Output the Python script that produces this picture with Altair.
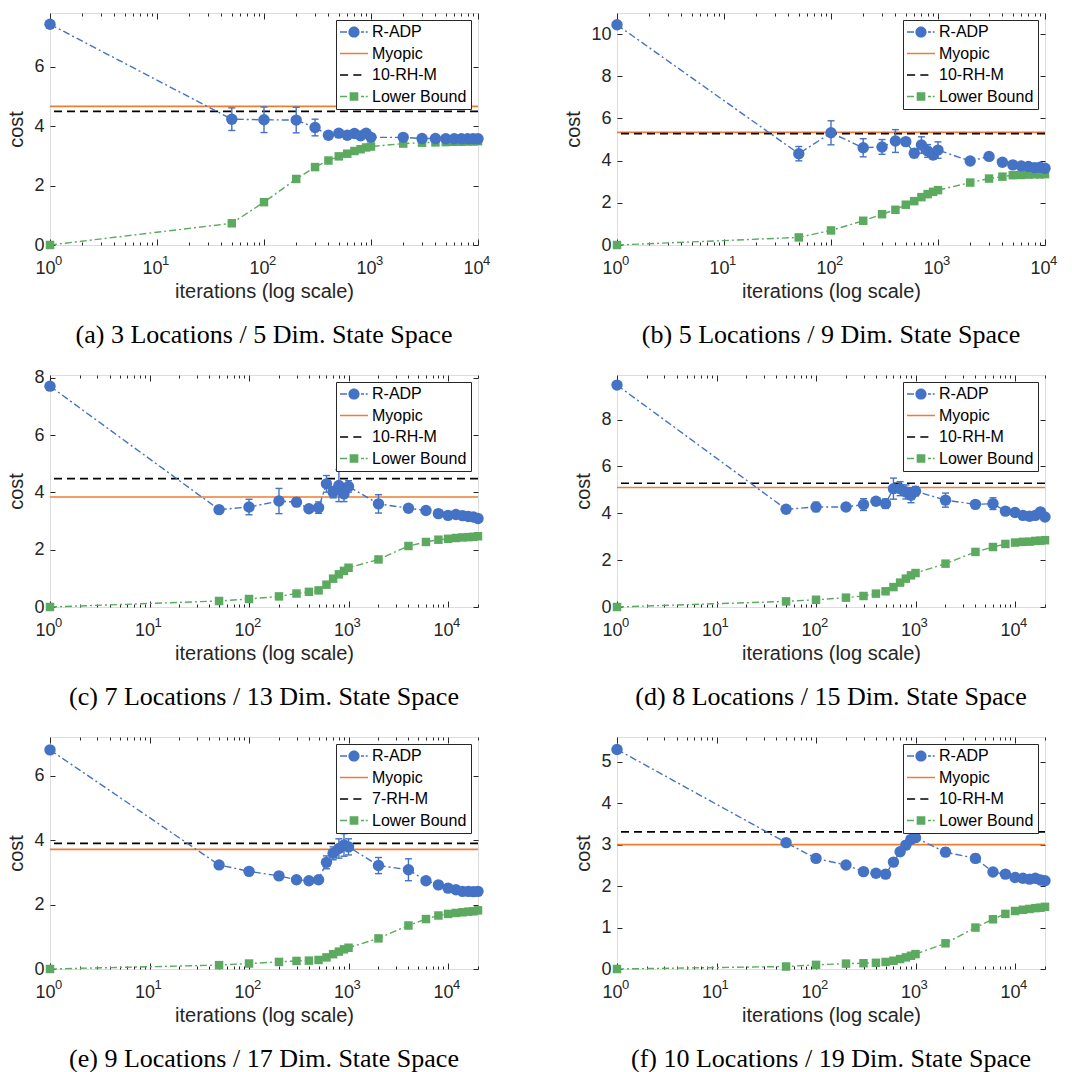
import altair as alt
import pandas as pd

# ---------------- data ----------------
ITER_SHORT = [1, 50, 100, 200, 300, 400, 500, 600, 700, 800, 900, 1000,
              2000, 3000, 4000, 5000, 6000, 7000, 8000, 9000, 10000]
ITER_LONG = [1, 50, 100, 200, 300, 400, 500, 600, 700, 800, 900, 1000,
             2000, 4000, 6000, 8000, 10000, 12000, 14000, 16000, 18000, 20000]

RADP_A = [7.42, 4.23, 4.21, 4.20, 3.95, 3.69, 3.76, 3.69, 3.75, 3.67, 3.76, 3.62,
          3.62, 3.58, 3.58, 3.57, 3.57, 3.57, 3.57, 3.57, 3.57]
ERR_A = [0, 0.38, 0.43, 0.43, 0.28, 0, 0, 0, 0, 0, 0, 0,
         0, 0, 0, 0, 0, 0, 0, 0, 0]
LB_A = [0, 0.73, 1.44, 2.22, 2.62, 2.84, 2.98, 3.07, 3.16, 3.22, 3.28, 3.31,
        3.41, 3.44, 3.45, 3.46, 3.47, 3.47, 3.48, 3.48, 3.49]

RADP_B = [10.44, 4.33, 5.32, 4.61, 4.65, 4.93, 4.90, 4.35, 4.74, 4.46, 4.27, 4.50,
          3.98, 4.20, 3.92, 3.80, 3.75, 3.72, 3.67, 3.69, 3.64]
ERR_B = [0, 0.34, 0.57, 0.43, 0.35, 0.54, 0.15, 0.2, 0.39, 0.3, 0.2, 0.39,
         0, 0, 0, 0, 0, 0, 0, 0, 0]
LB_B = [0, 0.36, 0.69, 1.15, 1.46, 1.67, 1.91, 2.08, 2.27, 2.41, 2.52, 2.60,
        2.96, 3.15, 3.24, 3.31, 3.32, 3.34, 3.35, 3.35, 3.36]

RADP_C = [7.71, 3.40, 3.49, 3.70, 3.66, 3.43, 3.47, 4.30, 4.01, 4.24, 3.95, 4.21,
          3.60, 3.45, 3.37, 3.26, 3.20, 3.23, 3.19, 3.16, 3.14, 3.09]
ERR_C = [0, 0, 0.27, 0.44, 0.15, 0, 0.2, 0.29, 0.2, 0.56, 0.27, 0.2,
         0.32, 0, 0, 0, 0, 0, 0, 0, 0, 0]
LB_C = [0, 0.21, 0.28, 0.37, 0.47, 0.53, 0.58, 0.78, 0.99, 1.14, 1.26, 1.37,
        1.66, 2.13, 2.27, 2.35, 2.38, 2.41, 2.43, 2.44, 2.45, 2.47]

RADP_D = [9.47, 4.17, 4.27, 4.27, 4.37, 4.51, 4.41, 5.05, 5.05, 4.91, 4.77, 4.94,
          4.56, 4.38, 4.41, 4.09, 4.03, 3.91, 3.87, 3.91, 4.06, 3.84]
ERR_D = [0, 0, 0.2, 0.15, 0.25, 0, 0.2, 0.45, 0.3, 0.3, 0.32, 0.2,
         0.3, 0, 0.25, 0, 0, 0, 0, 0, 0, 0]
LB_D = [0, 0.24, 0.31, 0.40, 0.47, 0.57, 0.67, 0.85, 1.04, 1.21, 1.35, 1.45,
        1.85, 2.35, 2.56, 2.69, 2.75, 2.78, 2.79, 2.82, 2.83, 2.85]

RADP_E = [6.80, 3.23, 3.03, 2.89, 2.77, 2.74, 2.77, 3.31, 3.59, 3.74, 3.85, 3.79,
          3.21, 3.08, 2.74, 2.61, 2.51, 2.46, 2.41, 2.41, 2.40, 2.41]
ERR_E = [0, 0, 0, 0, 0, 0, 0, 0.2, 0.2, 0.3, 0.35, 0.25,
         0.25, 0.34, 0, 0, 0, 0, 0, 0, 0, 0]
LB_E = [0, 0.12, 0.17, 0.22, 0.25, 0.26, 0.28, 0.36, 0.46, 0.54, 0.61, 0.66,
        0.95, 1.35, 1.55, 1.66, 1.71, 1.74, 1.76, 1.78, 1.79, 1.82]

RADP_F = [5.30, 3.05, 2.67, 2.51, 2.35, 2.31, 2.29, 2.58, 2.83, 2.99, 3.13, 3.17,
          2.82, 2.67, 2.34, 2.29, 2.21, 2.19, 2.17, 2.19, 2.15, 2.13]
ERR_F = [0, 0.06, 0, 0, 0, 0, 0, 0, 0.05, 0, 0, 0,
         0.1, 0.1, 0, 0, 0, 0, 0, 0, 0, 0]
LB_F = [0, 0.06, 0.10, 0.13, 0.14, 0.15, 0.17, 0.20, 0.24, 0.28, 0.32, 0.36,
        0.62, 1.00, 1.20, 1.33, 1.40, 1.43, 1.45, 1.47, 1.48, 1.50]

MYOPIC = [4.66, 5.34, 3.84, 5.10, 3.71, 3.00]
RHM = [4.49, 5.28, 4.48, 5.28, 3.90, 3.31]
RHM_LABELS = ["10-RH-M", "10-RH-M", "10-RH-M", "10-RH-M", "7-RH-M", "10-RH-M"]
CAPTIONS = [
    "(a) 3 Locations / 5 Dim. State Space",
    "(b) 5 Locations / 9 Dim. State Space",
    "(c) 7 Locations / 13 Dim. State Space",
    "(d) 8 Locations / 15 Dim. State Space",
    "(e) 9 Locations / 17 Dim. State Space",
    "(f) 10 Locations / 19 Dim. State Space",
]
Y_MAX = [7.8, 11, 8.1, 9.9, 7.2, 5.6]
Y_TICKS = [[0, 2, 4, 6], [0, 2, 4, 6, 8, 10], [0, 2, 4, 6, 8],
           [0, 2, 4, 6, 8], [0, 2, 4, 6], [0, 1, 2, 3, 4, 5]]
X_MAX = [10000, 10000, 20000, 20000, 20000, 20000]

# ---------------- style ----------------
BLUE = "#4472C4"
ORANGE = "#ED7D31"
GREEN = "#5BAA5F"
BLACK = "#000000"
AXC = "#262626"
FONT = "Liberation Sans"

PATH_RADP = ("M-1,-0.05H-0.5V0.05H-1Z M0.5,-0.05H0.72V0.05H0.5Z "
             "M0.84,-0.05H0.98V0.05H0.84Z "
             "M-0.4,0A0.4,0.4 0 1,1 0.4,0A0.4,0.4 0 1,1 -0.4,0Z")
PATH_MYOPIC = "M-1,-0.06H1V0.06H-1Z"
PATH_RHM = "M-1,-0.06H-0.42V0.06H-1Z M-0.05,-0.06H0.53V0.06H-0.05Z"
PATH_LB = ("M-1,-0.05H-0.5V0.05H-1Z M0.5,-0.05H0.72V0.05H0.5Z "
           "M0.84,-0.05H0.98V0.05H0.84Z M-0.31,-0.31H0.31V0.31H-0.31Z")

W, H = 428, 232
EXP = "'' + round(log(datum.value) / LN10)"


def panel(i, iters, radp, err, lb):
    xmax = X_MAX[i]
    df = pd.DataFrame({"it": iters, "radp": radp, "lb": lb, "err": err})
    df["lo"] = df["radp"] - df["err"]
    df["hi"] = df["radp"] + df["err"]
    edf = df[df["err"] > 0]
    caps = pd.concat([
        edf[["it", "lo"]].rename(columns={"lo": "v"}),
        edf[["it", "hi"]].rename(columns={"hi": "v"}),
    ])
    hl = pd.DataFrame({"v": [MYOPIC[i]]})
    hr = pd.DataFrame({"v": [RHM[i]]})

    xs = alt.Scale(type="log", domain=[1, xmax], nice=False)
    ys = alt.Scale(domain=[0, Y_MAX[i]], nice=False, zero=False)
    majors = [1, 10, 100, 1000, 10000]
    minors = [m * 10 ** k for k in range(5) for m in range(2, 10) if m * 10 ** k <= xmax]

    common = dict(domain=False, grid=False, tickColor=AXC, tickWidth=1)
    ax_bottom = alt.Axis(orient="bottom", values=majors, offset=-6, tickSize=6,
                         labelExpr="'10'", labelOffset=-5, title="iterations (log scale)",
                         labelFont=FONT, labelFontSize=18, labelColor=AXC,
                         labelPadding=14, titleFont=FONT, titleFontSize=20,
                         titleFontWeight="normal", titleColor=AXC, titlePadding=4,
                         labelFlush=False, labelOverlap=False, **common)
    ax_exp = alt.Axis(orient="bottom", values=majors, offset=0, tickSize=0, ticks=False,
                      labelExpr=EXP, labelAlign="left", labelOffset=4.5,
                      labelFont=FONT, labelFontSize=13, labelColor=AXC,
                      labelPadding=9, title=None, labelFlush=False,
                      labelOverlap=False, domain=False, grid=False)
    ax_bottom_minor = alt.Axis(orient="bottom", values=minors, offset=-3, tickSize=3,
                               labels=False, title=None, **common)
    ax_top = alt.Axis(orient="top", values=majors, offset=-6, tickSize=6,
                      labels=False, title=None, **common)
    ax_top_minor = alt.Axis(orient="top", values=minors, offset=-3, tickSize=3,
                            labels=False, title=None, **common)
    ax_left = alt.Axis(orient="left", values=Y_TICKS[i], offset=-5, tickSize=5,
                       title="cost", labelFont=FONT, labelFontSize=18,
                       labelColor=AXC, labelPadding=6, titleFont=FONT,
                       titleFontSize=20, titleFontWeight="normal", titleColor=AXC,
                       titlePadding=7, labelFlush=False, labelOverlap=False, **common)
    ax_right = alt.Axis(orient="right", values=Y_TICKS[i], offset=-5, tickSize=5,
                        labels=False, title=None, **common)

    base = alt.Chart(df)
    l_myopic = alt.Chart(hl).mark_rule(color=ORANGE, strokeWidth=1.7).encode(
        y=alt.Y("v:Q", scale=ys, axis=None))
    l_rhm = alt.Chart(hr).mark_rule(color=BLACK, strokeWidth=1.7, strokeDash=[8, 5]).encode(
        y=alt.Y("v:Q", scale=ys, axis=None))
    l_lb = base.mark_line(color=GREEN, strokeWidth=1.4, strokeDash=[7, 3, 2, 3]).encode(
        x=alt.X("it:Q", scale=xs, axis=ax_bottom),
        y=alt.Y("lb:Q", scale=ys, axis=ax_left))
    p_lb = base.mark_point(shape="square", filled=True, size=72, color=GREEN, opacity=1).encode(
        x=alt.X("it:Q", scale=xs, axis=ax_bottom_minor),
        y=alt.Y("lb:Q", scale=ys, axis=ax_right))
    l_radp = base.mark_line(color=BLUE, strokeWidth=1.4, strokeDash=[7, 3, 2, 3]).encode(
        x=alt.X("it:Q", scale=xs, axis=ax_top),
        y=alt.Y("radp:Q", scale=ys, axis=None))
    e_rule = alt.Chart(edf).mark_rule(color=BLUE, strokeWidth=1.4).encode(
        x=alt.X("it:Q", scale=xs, axis=None),
        y=alt.Y("lo:Q", scale=ys, axis=None), y2="hi:Q")
    e_cap = alt.Chart(caps).mark_tick(color=BLUE, orient="horizontal", size=7,
                                      thickness=1.4, opacity=1).encode(
        x=alt.X("it:Q", scale=xs, axis=None),
        y=alt.Y("v:Q", scale=ys, axis=None))
    p_radp = base.mark_point(shape="circle", filled=True, size=130, color=BLUE, opacity=1).encode(
        x=alt.X("it:Q", scale=xs, axis=ax_top_minor),
        y=alt.Y("radp:Q", scale=ys, axis=None))

    series = ["R-ADP", "Myopic", RHM_LABELS[i], "Lower Bound"]
    leg = alt.Legend(title=None, orient="top-right", offset=7, padding=4,
                     strokeColor=AXC, fillColor="white", symbolSize=784,
                     symbolStrokeWidth=0, symbolOpacity=1, labelFont=FONT,
                     labelFontSize=16, labelColor="black", labelOffset=4,
                     rowPadding=5.5, clipHeight=16, cornerRadius=0, labelLimit=300)
    legend_layer = base.transform_calculate(s="'R-ADP'").mark_point(
        filled=True, opacity=0).encode(
        x=alt.X("it:Q", scale=xs, axis=ax_exp),
        y=alt.Y("radp:Q", scale=ys, axis=None),
        color=alt.Color("s:N", scale=alt.Scale(domain=series,
                                               range=[BLUE, ORANGE, BLACK, GREEN]),
                        legend=leg),
        shape=alt.Shape("s:N", scale=alt.Scale(domain=series,
                                               range=[PATH_RADP, PATH_MYOPIC, PATH_RHM, PATH_LB]),
                        legend=leg))

    return alt.layer(
        l_myopic, l_rhm, l_lb, p_lb, l_radp, e_rule, e_cap, p_radp, legend_layer
    ).resolve_axis(x="independent", y="independent").properties(
        width=W, height=H,
        title=alt.Title(CAPTIONS[i], orient="bottom", font="Liberation Serif",
                        fontSize=26, fontWeight="normal", color="black",
                        offset=21, anchor="middle", frame="group"))


panels = [
    panel(0, ITER_SHORT, RADP_A, ERR_A, LB_A),
    panel(1, ITER_SHORT, RADP_B, ERR_B, LB_B),
    panel(2, ITER_LONG, RADP_C, ERR_C, LB_C),
    panel(3, ITER_LONG, RADP_D, ERR_D, LB_D),
    panel(4, ITER_LONG, RADP_E, ERR_E, LB_E),
    panel(5, ITER_LONG, RADP_F, ERR_F, LB_F),
]

chart = alt.concat(*panels, columns=2, spacing={"row": 130, "column": 139},
                   bounds="flush").resolve_scale(
    color="independent", shape="independent").resolve_legend(
    color="independent", shape="independent").properties(
    padding={"left": 6, "top": 12, "right": 5, "bottom": 5},
    background="white",
).configure_view(stroke=AXC, strokeWidth=1).configure(font=FONT)

chart.save("out.html", embed_options={"renderer": "svg", "actions": False})
